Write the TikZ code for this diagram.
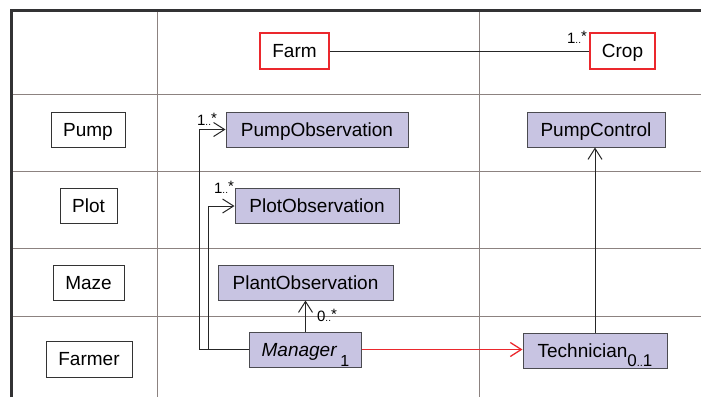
\documentclass[tikz,border=0pt]{standalone}
\usepackage{fontspec}
\setmainfont{Liberation Sans}
\usetikzlibrary{arrows.meta}
\definecolor{cls}{RGB}{200,196,226}
\definecolor{clsline}{RGB}{75,75,80}
\definecolor{grid}{RGB}{140,130,128}
\definecolor{frame}{RGB}{50,50,52}
\definecolor{redl}{RGB}{235,40,45}
\newcommand{\mult}[2]{#1\raisebox{0pt}{\fontsize{10}{10}\selectfont..}\raisebox{2pt}{#2}}
\tikzset{
  lane/.style={draw=black!80, line width=1pt, fill=white, inner sep=0pt, text height=13.5pt, text depth=0pt, font=\fontsize{19}{22}\selectfont},
  cls/.style={draw=clsline, line width=1pt, fill=cls, inner sep=0pt, minimum height=35pt, text height=13.5pt, text depth=0pt, font=\fontsize{19}{22}\selectfont},
  ent/.style={draw=redl, line width=1.1pt, fill=white, inner sep=0pt, minimum height=36pt, text height=13.5pt, text depth=0pt, font=\fontsize{19}{22}\selectfont},
  gridl/.style={draw=grid, line width=1pt},
  assoc/.style={draw=black!85, line width=1pt, -{Straight Barb[length=11pt,width=14pt]}},
  multl/.style={font=\fontsize{15}{16}\selectfont, inner sep=0pt},
}
\begin{document}
\begin{tikzpicture}[x=1pt,y=-1pt]
\useasboundingbox (0,0) rectangle (701,397);
% grid
\draw[gridl] (157,10) -- (157,397);
\draw[gridl] (479,10) -- (479,397);
\foreach \yy in {94,171,248,316} \draw[gridl] (11,\yy) -- (701,\yy);
% frame
\draw[draw=frame, line width=3pt] (11,397) -- (11,10) -- (701,10);
% lane labels
\node[lane, minimum width=74pt, minimum height=35pt] (pump) at (88,129.5) {Pump};
\node[lane, minimum width=57pt, minimum height=35pt] (plot) at (88.5,206) {Plot};
\node[lane, minimum width=71pt, minimum height=35pt] (maze) at (88.5,282.5) {Maze};
\node[lane, minimum width=86pt, minimum height=36pt] (farmer) at (89,359) {Farmer};
% entities
\node[ent, minimum width=69pt] (farm) at (294.5,51) {Farm};
\node[ent, minimum width=65pt] (crop) at (622.5,51) {Crop};
% classes
\node[cls, minimum width=182pt] (pumpobs) at (317,129.5) {PumpObservation};
\node[cls, minimum width=138pt] (pumpctl) at (596,129.5) {PumpControl};
\node[cls, minimum width=164pt] (plotobs) at (317,206) {PlotObservation};
\node[cls, minimum width=175pt] (plantobs) at (305.5,282.5) {PlantObservation};
\node[cls, minimum width=112pt] (manager) at (305.5,349.5) {\textit{Manager}\,\raisebox{-10pt}{\fontsize{16}{16}\selectfont 1}};
\node[cls, minimum width=144pt] (tech) at (595,350.5) {Technician\raisebox{-9pt}{\fontsize{17}{17}\selectfont 0\fontsize{11}{11}\selectfont..\fontsize{17}{17}\selectfont 1}};
% connectors
\draw[draw=black!85, line width=1pt] (farm.east) -- (crop.west);
\node[multl] (m1) at (577,37) {\mult{1}{*}};
\draw[assoc] (manager.west) -- ++(-50,0) |- (pumpobs.west);
\node[multl] (m2) at (207,119) {\mult{1}{*}};
\draw[assoc] (manager.west) -- ++(-41,0) |- (plotobs.west);
\node[multl] (m3) at (224,187) {\mult{1}{*}};
\draw[assoc] (manager.north) -- (plantobs.south);
\node[multl] (m4) at (327,315) {\mult{0}{*}};
\draw[assoc, draw=redl, line width=1.3pt] (manager.east) -- (manager.east -| tech.west);
\draw[assoc] (tech.north) -- (tech.north |- pumpctl.south);
\end{tikzpicture}
\end{document}
